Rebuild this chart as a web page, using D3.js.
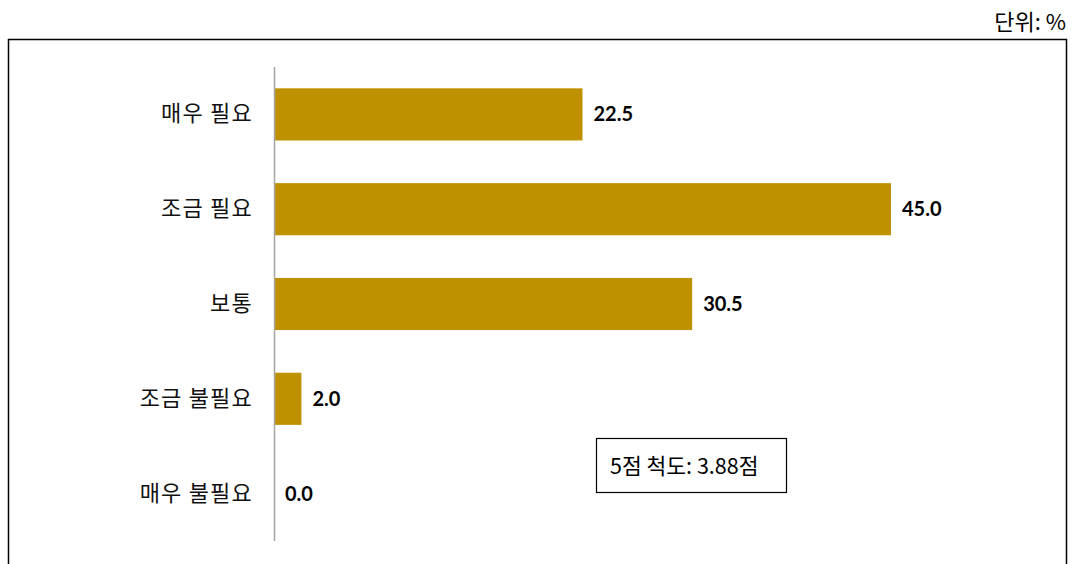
<!DOCTYPE html>
<html>
<head>
<meta charset="utf-8">
<script src="https://cdn.jsdelivr.net/npm/d3@7/dist/d3.min.js"></script>
<style>
  html, body { margin: 0; padding: 0; background: #fff; }
  svg { display: block; }
</style>
</head>
<body>
<svg id="chart" width="1076" height="564"></svg>
<script>
// Responses to "필요성" question, percent
const categories = ["매우 필요", "조금 필요", "보통", "조금 불필요", "매우 불필요"];
const values = [22.5, 45.0, 30.5, 2.0, 0.0];
const unitLabel = "단위: %";
const scaleNote = "5점 척도: 3.88점";

const svg = d3.select("#chart");
const korFont = "'Noto Sans CJK KR', 'Noto Sans', sans-serif";
const numFont = "Lato, 'Open Sans', sans-serif";

// Unit caption top-right
svg.append("text")
  .attr("x", 1066).attr("y", 30)
  .attr("text-anchor", "end")
  .attr("font-family", korFont)
  .attr("font-size", 22)
  .attr("fill", "#000")
  .text(unitLabel);

// Outer frame (bottom edge runs off the canvas)
svg.append("rect")
  .attr("x", 8.5).attr("y", 39.5)
  .attr("width", 1058).attr("height", 540)
  .attr("fill", "none")
  .attr("stroke", "#000")
  .attr("stroke-width", 1.5);

const axisX = 274;
const x = d3.scaleLinear().domain([0, 50]).range([axisX, axisX + 685.5]);
const y = d3.scaleBand()
  .domain(categories)
  .range([67, 541])
  .paddingInner(0.45)
  .paddingOuter(0.225);

// Bars
svg.append("g").selectAll("rect")
  .data(categories)
  .join("rect")
  .attr("x", x(0))
  .attr("y", d => y(d))
  .attr("width", (d, i) => x(values[i]) - x(0))
  .attr("height", y.bandwidth())
  .attr("fill", "#BF9000");

// Category axis
const yAxis = svg.append("g")
  .attr("transform", `translate(${axisX},0)`)
  .call(d3.axisLeft(y).tickSize(0).tickPadding(21));
yAxis.select(".domain")
  .attr("stroke", "#a6a6a6")
  .attr("stroke-width", 1.5)
  .attr("d", "M0.5,67V541");
yAxis.selectAll("text")
  .attr("font-family", korFont)
  .attr("font-size", 22)
  .attr("letter-spacing", "1.2px")
  .attr("fill", "#111");

// Value labels
svg.append("g").selectAll("text")
  .data(categories)
  .join("text")
  .attr("x", (d, i) => x(values[i]) + 11)
  .attr("y", d => y(d) + y.bandwidth() / 2)
  .attr("dy", "0.35em")
  .attr("font-family", numFont)
  .attr("font-weight", "bold")
  .attr("font-size", 20)
  .attr("fill", "#000")
  .text((d, i) => values[i].toFixed(1));

// Score note box
svg.append("rect")
  .attr("x", 596.5).attr("y", 438.5)
  .attr("width", 190).attr("height", 54)
  .attr("fill", "#fff")
  .attr("stroke", "#000")
  .attr("stroke-width", 1.2);
svg.append("text")
  .attr("x", 610).attr("y", 466)
  .attr("dy", "0.35em")
  .attr("font-family", korFont)
  .attr("font-size", 21.5)
  .attr("fill", "#000")
  .text(scaleNote);
</script>
</body>
</html>
